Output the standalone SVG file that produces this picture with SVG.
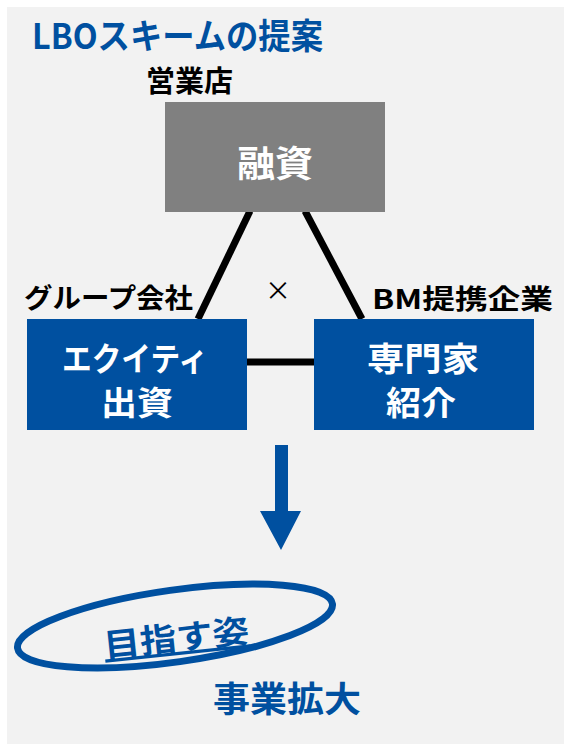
<svg xmlns="http://www.w3.org/2000/svg" width="564" height="744" viewBox="0 0 564 744">
<style>
.t{font-family:"Noto Sans CJK JP","Noto Sans",sans-serif;font-weight:bold}
.blue{fill:#0050A0}
.blk{fill:#000}
.wht{fill:#fff}
.con{stroke:#000;stroke-width:7;fill:none}
</style>
<rect x="0" y="0" width="564" height="744" fill="#fff"/>
<rect x="7" y="7" width="557" height="737" fill="#F2F2F2"/>
<text class="t blue" x="32" y="49" font-size="35" textLength="291" lengthAdjust="spacingAndGlyphs">LBOスキームの提案</text>
<g id="connectors">
<line class="con" x1="250" y1="211" x2="198" y2="319"/>
<line class="con" x1="305" y1="211" x2="362" y2="319"/>
<line class="con" x1="247" y1="362" x2="315" y2="362"/>
<path d="M275 445 H288 V511 H301 L281 550 L260 511 H275 Z" fill="#0050A0"/>
</g>
<g id="n-yushi">
<text class="t blk" x="146" y="92" font-size="29" textLength="87" lengthAdjust="spacingAndGlyphs">営業店</text>
<rect x="165" y="102" width="220" height="110" fill="#808080"/>
<text class="t wht" x="237" y="177" font-size="36" textLength="76" lengthAdjust="spacingAndGlyphs">融資</text>
</g>
<g id="n-equity">
<text class="t blk" x="24" y="308" font-size="27" textLength="169" lengthAdjust="spacingAndGlyphs">グループ会社</text>
<rect x="27" y="319" width="220" height="111" fill="#0050A0"/>
<text class="t wht" font-size="33"><tspan x="62" y="371" textLength="146" lengthAdjust="spacingAndGlyphs">エクイティ</tspan><tspan x="101" y="415" textLength="72" lengthAdjust="spacingAndGlyphs">出資</tspan></text>
</g>
<g id="n-expert">
<text class="t blk" x="372" y="309" font-size="27" textLength="181" lengthAdjust="spacingAndGlyphs">BM提携企業</text>
<rect x="314" y="319" width="220" height="111" fill="#0050A0"/>
<text class="t wht" font-size="33"><tspan x="367" y="371" textLength="112" lengthAdjust="spacingAndGlyphs">専門家</tspan><tspan x="386" y="415" textLength="70" lengthAdjust="spacingAndGlyphs">紹介</tspan></text>
</g>
<text x="278" y="300" font-family="Noto Sans CJK JP, sans-serif" font-size="26" text-anchor="middle" class="blk">×</text>
<g id="n-goal">
<ellipse cx="175" cy="626" rx="159" ry="36" transform="rotate(-8 175 626)" fill="none" stroke="#0050A0" stroke-width="7"/>
<text class="t blue" x="103" y="650" font-size="33" textLength="146" lengthAdjust="spacingAndGlyphs" text-decoration="underline" transform="rotate(-6 176 635)">目指す姿</text>
<text class="t blue" x="213" y="712" font-size="35" textLength="148" lengthAdjust="spacingAndGlyphs">事業拡大</text>
</g>
</svg>
